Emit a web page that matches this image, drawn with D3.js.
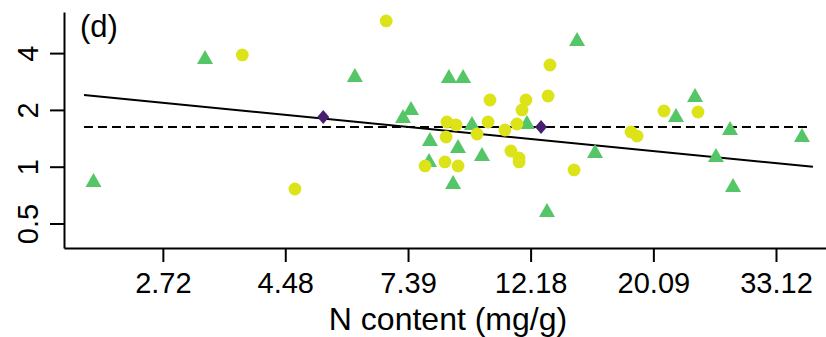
<!DOCTYPE html>
<html><head><meta charset="utf-8">
<script src="https://cdn.jsdelivr.net/npm/d3@7"></script>
<style>
html,body{margin:0;padding:0;background:#fff;}
svg text{font-family:"Liberation Sans",Arial,sans-serif;fill:#000;}
</style></head>
<body>
<svg id="chart" width="826" height="337"></svg>
<script>
// ---- data ----
const triangleX = [2.05,3.23,5.95,7.48,7.24,8.08,8.05,8.73,9.25,8.88,9.06,9.59,9.99,12.0,13.02,14.72,15.84,23.81,22.03,27.46,36.82,25.93,27.8];
const triangleY = [0.83,3.72,2.99,2.0,1.81,1.37,1.06,2.95,2.95,0.81,1.256,1.664,1.139,1.684,0.575,4.64,1.182,2.34,1.834,1.565,1.437,1.126,0.78];
const circleX = [3.76,4.66,6.76,8.66,8.99,8.63,8.59,7.92,9.06,10.24,9.79,10.32,10.97,11.52,11.76,11.95,13.08,13.18,11.24,11.62,11.62,14.54,18.34,18.8,20.98,24.1];
const circleY = [3.91,0.762,5.92,1.725,1.664,1.437,1.06,1.009,1.009,1.725,1.49,2.257,1.565,1.684,2.0,2.257,2.37,3.46,1.211,1.112,1.06,0.961,1.527,1.454,1.973,1.949];
const diamondX = [5.23,12.71];
const diamondY = [1.834,1.623];
const fitLineX = [1.972,38.5];
const fitLineY = [2.40,1.0];
const meanLineX = [1.972,37.6];
const meanLineY = [1.623,1.623];
const xTicks = [2.72,4.48,7.39,12.18,20.09,33.12];
const xTickLabels = ["2.72","4.48","7.39","12.18","20.09","33.12"];
const yTicks = [0.5,1,2,4];
const yTickLabels = ["0.5","1","2","4"];
const panelLabel = "(d)";
const xTitle = "N content (mg/g)";

// ---- drawing ----
const svg = d3.select("#chart");
const x = d3.scaleLog().domain([Math.exp(0.5976), Math.exp(3.704)]).range([64, 826]);
const y = d3.scaleLog().base(2).domain([Math.pow(2,-1.4313), Math.pow(2,2.7236)]).range([248, 12]);

const colTri = "#55C667", colCirc = "#DCE319", colDia = "#481F70";

// axes
const xAxis = svg.append("g").attr("transform","translate(0,248)")
  .call(d3.axisBottom(x).tickValues(xTicks).tickFormat((d,i)=>xTickLabels[i]).tickSize(14).tickSizeOuter(0).tickPadding(10));
const yAxis = svg.append("g").attr("transform","translate(64,0)")
  .call(d3.axisLeft(y).tickValues(yTicks).tickFormat((d,i)=>yTickLabels[i]).tickSize(14).tickSizeOuter(0));
[xAxis,yAxis].forEach(g=>{
  g.select(".domain").attr("stroke","#000").attr("stroke-width",2);
  g.selectAll(".tick line").attr("stroke","#000").attr("stroke-width",2);
});
xAxis.selectAll(".tick text").attr("font-size",29).attr("font-family","Liberation Sans, Arial, sans-serif").attr("fill","#000");
yAxis.selectAll(".tick text").remove();
yAxis.selectAll(".tick").append("text")
  .attr("transform","rotate(-90)")
  .attr("x",0).attr("y",-26)
  .attr("text-anchor","middle")
  .attr("font-size",29)
  .text((d,i)=>yTickLabels[i]);

// lines
const line = d3.line().x(d=>x(d[0])).y(d=>y(d[1]));
svg.append("path").datum(meanLineX.map((v,i)=>[v,meanLineY[i]]))
  .attr("d",line).attr("fill","none").attr("stroke","#000").attr("stroke-width",2).attr("stroke-dasharray","9,5");
svg.append("path").datum(fitLineX.map((v,i)=>[v,fitLineY[i]]))
  .attr("d",line).attr("fill","none").attr("stroke","#000").attr("stroke-width",2);

// points
const circles = circleX.map((v,i)=>[v,circleY[i]]);
const tris = triangleX.map((v,i)=>[v,triangleY[i]]);
const dias = diamondX.map((v,i)=>[v,diamondY[i]]);
svg.append("g").selectAll("path").data(tris).join("path")
  .attr("transform",d=>`translate(${x(d[0])},${y(d[1])})`)
  .attr("d","M0,-9L8,5L-8,5Z").attr("fill",colTri);
svg.append("g").selectAll("circle").data(circles).join("circle")
  .attr("cx",d=>x(d[0])).attr("cy",d=>y(d[1])).attr("r",6.4).attr("fill",colCirc);
svg.append("g").selectAll("path").data(dias).join("path")
  .attr("transform",d=>`translate(${x(d[0])},${y(d[1])})`)
  .attr("d","M0,-7L6,0L0,7L-6,0Z").attr("fill",colDia);

// labels
svg.append("text").attr("x",80).attr("y",37).attr("font-size",31).text(panelLabel);
svg.append("text").attr("x",448).attr("y",330).attr("text-anchor","middle").attr("font-size",32).text(xTitle);
</script>
</body></html>
